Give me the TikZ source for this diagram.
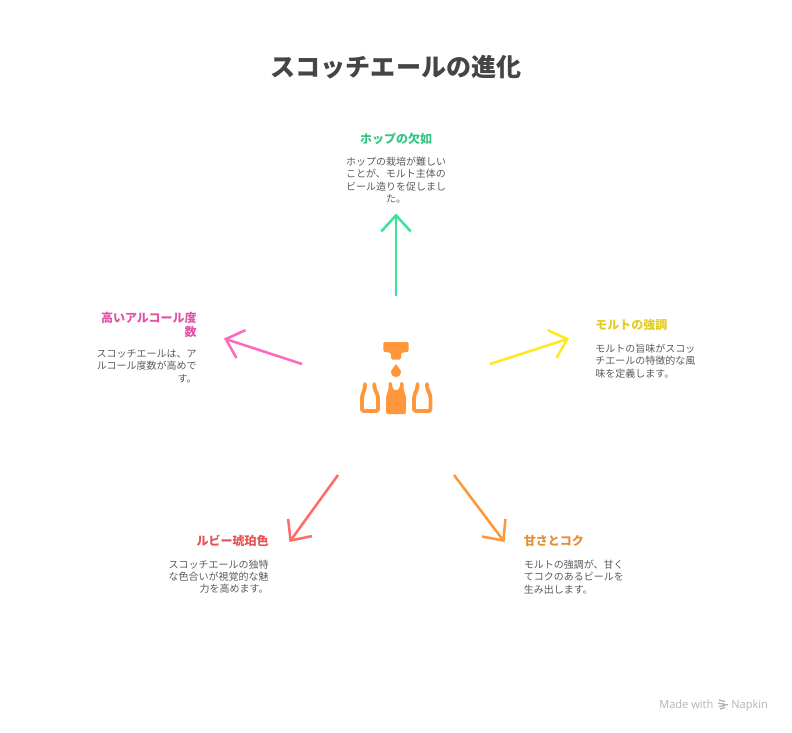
\documentclass[tikz,border=0pt]{standalone}
\usepackage{fontspec}
\setmainfont{Noto Sans CJK JP}
\newfontfamily\markfont{Open Sans}
\usetikzlibrary{arrows.meta}
\definecolor{cgreen}{HTML}{3DE297}
\definecolor{tgreen}{HTML}{35C585}
\definecolor{cyellow}{HTML}{FFE81F}
\definecolor{tyellow}{HTML}{E3CC22}
\definecolor{cpink}{HTML}{FF69B9}
\definecolor{tpink}{HTML}{DE55A8}
\definecolor{cred}{HTML}{FF6B6B}
\definecolor{tred}{HTML}{EA5053}
\definecolor{corange}{HTML}{FF963C}
\definecolor{torange}{HTML}{E58F35}
\definecolor{ctext}{HTML}{5A5A5A}
\tikzset{
    title/.style = {font=\fontsize{18.8}{22}\bfseries\selectfont,text=black!73,inner sep=0pt},
    head/.style = {font=\fontsize{9}{10.2}\bfseries\selectfont,inner sep=0pt},
    body/.style = {font=\fontsize{7.5}{9.3}\selectfont,text=ctext,inner sep=0pt},
    edgen/.style = {line width=1.9pt,-{Straight Barb[length=12pt,width=22pt]}},
    bottle/.style = {draw=corange,line width=2.9pt,line cap=round,line join=round,rounded corners=1.5pt},
    iconfill/.style = {fill=corange,rounded corners=1pt},
    wmark/.style = {font=\markfont\fontsize{8.3}{10}\selectfont,text=black!30,inner sep=0pt,anchor=base west}
}
\begin{document}
\begin{tikzpicture}[x=0.75pt,y=-0.75pt]
\useasboundingbox (0,0) rectangle (792,732);
%
\node[title] at (396,67.5) (ttl) {スコッチエールの進化};
%
\node[head,text=tgreen] at (396,139) (hop) {ホップの欠如};
\node[body,align=center,anchor=north] at (396,156.5) (hopt) {ホップの栽培が難しい\\ことが、モルト主体の\\ビール造りを促しまし\\た。};
%
\node[head,text=tyellow,anchor=west] at (595,325) (malt) {モルトの強調};
\node[body,align=left,anchor=north west] at (595,343.5) (maltt) {モルトの旨味がスコッ\\チエールの特徴的な風\\味を定義します。};
%
\node[head,text=tpink,align=right,anchor=north east] at (197,312) (alc) {高いアルコール度\\数};
\node[body,align=right,anchor=north east] at (197,349.5) (alct) {スコッチエールは、ア\\ルコール度数が高めで\\す。};
%
\node[head,text=tred,anchor=east] at (269,541) (ruby) {ルビー琥珀色};
\node[body,align=right,anchor=north east] at (269,559.5) (rubyt) {スコッチエールの独特\\な色合いが視覚的な魅\\力を高めます。};
%
\node[head,text=torange,anchor=west] at (523.5,541) (sweet) {甘さとコク};
\node[body,align=left,anchor=north west] at (523.5,559.5) (sweett) {モルトの強調が、甘く\\てコクのあるビールを\\生み出します。};
%
\coordinate (g0) at (396,296);
\coordinate (g1) at (396,213.5);
\coordinate (y0) at (490,364);
\coordinate (y1) at (569,338.5);
\coordinate (p0) at (302,364);
\coordinate (p1) at (224,338.5);
\coordinate (r0) at (338,475);
\coordinate (r1) at (289.5,542);
\coordinate (o0) at (454,475);
\coordinate (o1) at (504.5,542);
\draw[edgen,cgreen] (g0) -- (g1);
\draw[edgen,cyellow] (y0) -- (y1);
\draw[edgen,cpink] (p0) -- (p1);
\draw[edgen,cred] (r0) -- (r1);
\draw[edgen,corange] (o0) -- (o1);
% icon
\fill[iconfill] (383.3,342) -- (408.7,342) -- (408.7,351.5) -- (401,353) -- (401,359.5) -- (391,359.5) -- (391,353) -- (383.3,351.5) -- cycle;
\fill[corange] (396,364) .. controls (398,367) and (401,370) .. (401,372.5) .. controls (401,375.5) and (398.5,377) .. (396,377) .. controls (393.5,377) and (391,375.5) .. (391,372.5) .. controls (391,370) and (394,367) .. (396,364) -- cycle;
\draw[bottle] (365,384) -- (365,388) -- (362,396) -- (362,411) -- (378,411) -- (378,396) -- (374.3,388) -- (374.3,384);
\draw[bottle] (417.5,384) -- (417.5,388) -- (414,396) -- (414,411) -- (430.5,411) -- (430.5,396) -- (427,388) -- (427,384);
\fill[iconfill,rounded corners=1.5pt] (388.5,382) -- (392,382) -- (392,388) -- (396,391) -- (400,388) -- (400,382) -- (403.5,382) -- (403.5,390) -- (406,396) -- (406,414) -- (386,414) -- (386,396) -- (388.5,390) -- cycle;
% watermark
\node[wmark] at (659,708) (made) {Made with};
\node[wmark] at (731,708) (nap) {Napkin};
\draw[black!30,line width=1pt] (719,700) -- (725,701.5) (718,703) -- (728,705) (719,706.5) -- (725,705.5) (720,709) -- (725,707.5);
\end{tikzpicture}
\end{document}
